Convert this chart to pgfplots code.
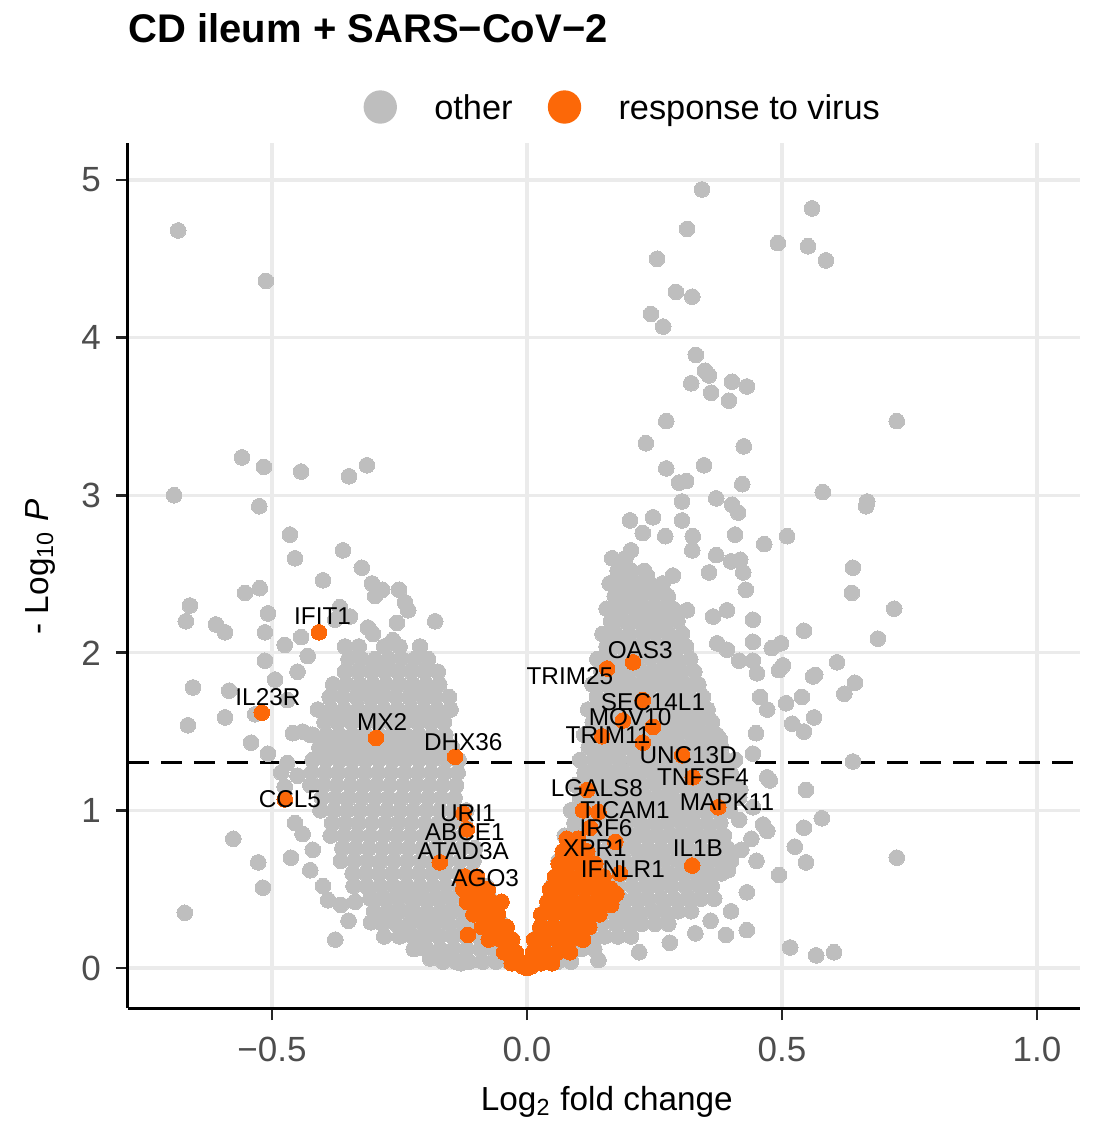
\documentclass[border=0pt]{standalone}
\usepackage{pgfplots}
\pgfplotsset{compat=1.18}
\usepackage{fontspec}
\setmainfont{Liberation Sans}
\definecolor{ptgrey}{RGB}{190,190,190}
\definecolor{ptorange}{RGB}{252,104,8}
\definecolor{gridgrey}{RGB}{235,235,235}
\definecolor{ticklab}{RGB}{77,77,77}
\begin{document}
\begin{tikzpicture}[x=1pt,y=1pt]
\useasboundingbox (-38.4,-34.8) rectangle (291.3,302.4);
\begin{axis}[
  at={(0,0)}, anchor=south west,
  scale only axis, width=285.6pt, height=259.5pt,
  xmin=-0.7824, xmax=1.0843, ymin=-0.254, ymax=5.235,
  axis x line*=bottom, axis y line*=left,
  axis line style={line width=0.9pt, black, -},
  xtick={-0.5,0,0.5,1}, xticklabels={−0.5,0.0,0.5,1.0},
  ytick={0,1,2,3,4,5}, yticklabels={0,1,2,3,4,5},
  tick align=outside, major tick length=3.6pt,
  tick style={line width=0.8pt, black!85},
  grid=major, grid style={gridgrey, line width=1pt},
  tick label style={font=\fontsize{10.5}{12}\selectfont, text=ticklab},
  xticklabel style={yshift=-1.5pt},
  yticklabel style={xshift=-1pt},
  xlabel={Log\textsubscript{2} fold change},
  ylabel={- Log\textsubscript{10} \textit{P}},
  label style={font=\fontsize{10}{12}\selectfont},
  xlabel style={at={(axis description cs:0.503,-0.108)}, anchor=center},
  ylabel style={at={(axis description cs:-0.0924,0.51)}, anchor=center},
  legend style={draw=none, fill=none, inner sep=0pt,
    at={(axis description cs:0.2468,1.0416)}, anchor=west,
    nodes={inner sep=0pt, text depth=0pt},
    font=\fontsize{10.3}{12}\selectfont,
    /tikz/every odd column/.append style={column sep=11.2pt},
    /tikz/every even column/.append style={column sep=10.6pt}},
  legend columns=2,
]
% other genes
\addplot[ptgrey, only marks, mark=*, mark size=2.35pt, mark options={draw=none, fill=ptgrey, line width=0pt},
  legend image code/.code={\fill[ptgrey] (0pt,0pt) circle (4.8pt);}] coordinates {
(-0.684,4.68) (-0.512,4.36) (-0.692,3.00) (-0.559,3.24) (-0.516,3.18) (-0.443,3.15) (-0.349,3.12) (-0.314,3.19) (-0.525,2.93) (-0.465,2.75) (-0.455,2.60) (-0.361,2.65) (-0.324,2.54) (-0.400,2.46) (-0.304,2.44) (-0.284,2.40) (-0.251,2.40) (-0.233,2.27) (-0.661,2.30) (-0.669,2.20) (-0.610,2.18) (-0.592,2.13) (-0.553,2.38) (-0.524,2.41) (-0.508,2.25) (-0.514,2.13) (-0.475,2.05) (-0.443,2.10) (-0.376,2.21) (-0.357,2.04) (-0.312,2.16) (-0.298,2.36) (-0.239,2.32) (-0.180,2.20) (-0.367,2.29) (-0.347,2.23) (-0.302,2.12) (-0.255,2.19) (-0.263,2.08) (-0.655,1.78) (-0.665,1.54) (-0.592,1.59) (-0.584,1.76) (-0.533,1.61) (-0.541,1.43) (-0.508,1.36) (-0.482,1.24) (-0.475,1.15) (-0.459,1.49) (-0.440,1.50) (-0.425,1.48) (-0.514,1.95) (-0.494,1.83) (-0.470,1.70) (-0.450,1.88) (-0.430,1.98) (-0.576,0.82) (-0.527,0.67) (-0.518,0.51) (-0.463,0.70) (-0.425,0.62) (-0.671,0.35) (-0.390,0.43) (-0.376,0.18) (-0.312,0.51) (-0.306,0.29) (-0.239,0.25) (-0.208,0.13) (-0.165,0.08) (-0.365,0.40) (-0.337,0.42) (-0.455,0.92) (-0.440,0.85) (-0.420,0.75) (-0.470,1.30) (-0.450,1.22) (-0.400,0.52) (-0.350,0.30) (-0.280,0.20) (-0.190,0.06) (-0.130,0.03)
(0.343,4.94) (0.314,4.69) (0.255,4.50) (0.492,4.60) (0.559,4.82) (0.551,4.58) (0.586,4.49) (0.292,4.29) (0.324,4.26) (0.243,4.15) (0.267,4.07) (0.331,3.89) (0.349,3.79) (0.357,3.76) (0.322,3.71) (0.361,3.65) (0.402,3.72) (0.431,3.69) (0.396,3.60) (0.273,3.47) (0.725,3.47) (0.233,3.33) (0.425,3.31) (0.273,3.17) (0.347,3.19) (0.298,3.08) (0.312,3.09) (0.422,3.07) (0.304,2.96) (0.371,2.98) (0.402,2.94) (0.414,2.89) (0.580,3.02) (0.667,2.96) (0.665,2.93) (0.202,2.84) (0.247,2.86) (0.227,2.76) (0.271,2.74) (0.304,2.84) (0.325,2.74) (0.324,2.65) (0.408,2.75) (0.371,2.62) (0.465,2.69) (0.510,2.74) (0.400,2.58) (0.418,2.59) (0.424,2.51) (0.639,2.54) (0.637,2.38) (0.429,2.40) (0.180,2.57) (0.204,2.65) (0.186,2.44) (0.235,2.49) (0.286,2.49) (0.357,2.51) (0.263,2.41) (0.720,2.28) (0.688,2.09) (0.543,2.14) (0.608,1.94) (0.643,1.81) (0.622,1.74) (0.561,1.85) (0.539,1.72) (0.563,1.59) (0.520,1.55) (0.543,1.50) (0.639,1.31) (0.547,1.13) (0.578,0.95) (0.543,0.89) (0.525,0.77) (0.547,0.67) (0.725,0.70) (0.494,0.59) (0.431,0.48) (0.390,0.21) (0.431,0.24) (0.516,0.13) (0.567,0.08) (0.602,0.10) (0.471,1.21) (0.463,0.91) (0.498,2.06) (0.480,2.03) (0.443,1.95) (0.443,2.07) (0.416,1.95) (0.494,1.89) (0.457,1.72) (0.471,1.64) (0.508,1.68) (0.449,1.49) (0.443,1.36) (0.476,1.19) (0.443,1.02) (0.471,0.87) (0.416,0.94) (0.394,0.62) (0.418,1.13) (0.408,1.32) (0.378,1.45) (0.314,2.27) (0.365,2.23) (0.392,2.27) (0.443,2.21) (0.502,1.92) (0.451,1.87) (0.565,1.86) (0.373,2.06) (0.392,2.02) (0.420,0.75) (0.450,0.68) (0.400,0.36) (0.440,0.82) (0.360,0.30) (0.330,0.22) (0.280,0.16) (0.220,0.10) (0.140,0.05)
(-0.165,0.04) (-0.139,0.04) (-0.113,0.04) (-0.087,0.04) (-0.061,0.04) (-0.035,0.04)
(-0.222,0.12) (-0.196,0.12) (-0.170,0.12) (-0.144,0.12) (-0.118,0.12) (-0.092,0.12) (-0.066,0.12) (-0.040,0.12)
(-0.250,0.20) (-0.224,0.20) (-0.198,0.20) (-0.172,0.20) (-0.146,0.20) (-0.120,0.20) (-0.094,0.20) (-0.068,0.20) (-0.042,0.20)
(-0.283,0.28) (-0.257,0.28) (-0.231,0.28) (-0.205,0.28) (-0.179,0.28) (-0.153,0.28) (-0.127,0.28) (-0.101,0.28) (-0.075,0.28) (-0.049,0.28)
(-0.300,0.36) (-0.274,0.36) (-0.248,0.36) (-0.222,0.36) (-0.196,0.36) (-0.170,0.36) (-0.144,0.36) (-0.118,0.36) (-0.092,0.36) (-0.066,0.36)
(-0.307,0.44) (-0.281,0.44) (-0.255,0.44) (-0.229,0.44) (-0.203,0.44) (-0.177,0.44) (-0.151,0.44) (-0.125,0.44) (-0.099,0.44) (-0.073,0.44)
(-0.340,0.52) (-0.314,0.52) (-0.288,0.52) (-0.262,0.52) (-0.236,0.52) (-0.210,0.52) (-0.184,0.52) (-0.158,0.52) (-0.132,0.52) (-0.106,0.52) (-0.080,0.52)
(-0.342,0.60) (-0.316,0.60) (-0.290,0.60) (-0.264,0.60) (-0.238,0.60) (-0.212,0.60) (-0.186,0.60) (-0.160,0.60) (-0.134,0.60) (-0.108,0.60)
(-0.365,0.68) (-0.339,0.68) (-0.313,0.68) (-0.287,0.68) (-0.261,0.68) (-0.235,0.68) (-0.209,0.68) (-0.183,0.68) (-0.157,0.68) (-0.131,0.68) (-0.105,0.68)
(-0.362,0.76) (-0.336,0.76) (-0.310,0.76) (-0.284,0.76) (-0.258,0.76) (-0.232,0.76) (-0.206,0.76) (-0.180,0.76) (-0.154,0.76) (-0.128,0.76) (-0.102,0.76)
(-0.385,0.84) (-0.359,0.84) (-0.333,0.84) (-0.307,0.84) (-0.281,0.84) (-0.255,0.84) (-0.229,0.84) (-0.203,0.84) (-0.177,0.84) (-0.151,0.84) (-0.125,0.84)
(-0.382,0.92) (-0.356,0.92) (-0.330,0.92) (-0.304,0.92) (-0.278,0.92) (-0.252,0.92) (-0.226,0.92) (-0.200,0.92) (-0.174,0.92) (-0.148,0.92) (-0.122,0.92)
(-0.405,1.00) (-0.379,1.00) (-0.353,1.00) (-0.327,1.00) (-0.301,1.00) (-0.275,1.00) (-0.249,1.00) (-0.223,1.00) (-0.197,1.00) (-0.171,1.00) (-0.145,1.00) (-0.119,1.00)
(-0.402,1.08) (-0.376,1.08) (-0.350,1.08) (-0.324,1.08) (-0.298,1.08) (-0.272,1.08) (-0.246,1.08) (-0.220,1.08) (-0.194,1.08) (-0.168,1.08) (-0.142,1.08)
(-0.425,1.16) (-0.399,1.16) (-0.373,1.16) (-0.347,1.16) (-0.321,1.16) (-0.295,1.16) (-0.269,1.16) (-0.243,1.16) (-0.217,1.16) (-0.191,1.16) (-0.165,1.16) (-0.139,1.16)
(-0.422,1.24) (-0.396,1.24) (-0.370,1.24) (-0.344,1.24) (-0.318,1.24) (-0.292,1.24) (-0.266,1.24) (-0.240,1.24) (-0.214,1.24) (-0.188,1.24) (-0.162,1.24) (-0.136,1.24)
(-0.420,1.32) (-0.394,1.32) (-0.368,1.32) (-0.342,1.32) (-0.316,1.32) (-0.290,1.32) (-0.264,1.32) (-0.238,1.32) (-0.212,1.32) (-0.186,1.32) (-0.160,1.32) (-0.134,1.32)
(-0.407,1.40) (-0.381,1.40) (-0.355,1.40) (-0.329,1.40) (-0.303,1.40) (-0.277,1.40) (-0.251,1.40) (-0.225,1.40) (-0.199,1.40) (-0.173,1.40) (-0.147,1.40)
(-0.420,1.48) (-0.394,1.48) (-0.368,1.48) (-0.342,1.48) (-0.316,1.48) (-0.290,1.48) (-0.264,1.48) (-0.238,1.48) (-0.212,1.48) (-0.186,1.48) (-0.160,1.48)
(-0.397,1.56) (-0.371,1.56) (-0.345,1.56) (-0.319,1.56) (-0.293,1.56) (-0.267,1.56) (-0.241,1.56) (-0.215,1.56) (-0.189,1.56) (-0.163,1.56)
(-0.410,1.64) (-0.384,1.64) (-0.358,1.64) (-0.332,1.64) (-0.306,1.64) (-0.280,1.64) (-0.254,1.64) (-0.228,1.64) (-0.202,1.64) (-0.176,1.64) (-0.150,1.64)
(-0.387,1.72) (-0.361,1.72) (-0.335,1.72) (-0.309,1.72) (-0.283,1.72) (-0.257,1.72) (-0.231,1.72) (-0.205,1.72) (-0.179,1.72) (-0.153,1.72)
(-0.380,1.80) (-0.354,1.80) (-0.328,1.80) (-0.302,1.80) (-0.276,1.80) (-0.250,1.80) (-0.224,1.80) (-0.198,1.80) (-0.172,1.80)
(-0.357,1.88) (-0.331,1.88) (-0.305,1.88) (-0.279,1.88) (-0.253,1.88) (-0.227,1.88) (-0.201,1.88) (-0.175,1.88)
(-0.350,1.96) (-0.324,1.96) (-0.298,1.96) (-0.272,1.96) (-0.246,1.96) (-0.220,1.96) (-0.194,1.96)
(-0.330,2.04) (-0.280,2.04) (-0.250,2.04) (-0.210,2.04)
(0.008,0.04) (0.034,0.04) (0.060,0.04) (0.086,0.04)
(0.028,0.12) (0.054,0.12) (0.080,0.12) (0.106,0.12) (0.132,0.12)
(0.022,0.20) (0.048,0.20) (0.074,0.20) (0.100,0.20) (0.126,0.20) (0.152,0.20) (0.178,0.20) (0.204,0.20)
(0.043,0.28) (0.069,0.28) (0.095,0.28) (0.121,0.28) (0.147,0.28) (0.173,0.28) (0.199,0.28) (0.225,0.28) (0.251,0.28) (0.277,0.28)
(0.036,0.36) (0.062,0.36) (0.088,0.36) (0.114,0.36) (0.140,0.36) (0.166,0.36) (0.192,0.36) (0.218,0.36) (0.244,0.36) (0.270,0.36) (0.296,0.36) (0.322,0.36)
(0.055,0.44) (0.081,0.44) (0.107,0.44) (0.133,0.44) (0.159,0.44) (0.185,0.44) (0.211,0.44) (0.237,0.44) (0.263,0.44) (0.289,0.44) (0.315,0.44) (0.341,0.44) (0.367,0.44)
(0.050,0.52) (0.076,0.52) (0.102,0.52) (0.128,0.52) (0.154,0.52) (0.180,0.52) (0.206,0.52) (0.232,0.52) (0.258,0.52) (0.284,0.52) (0.310,0.52) (0.336,0.52) (0.362,0.52)
(0.069,0.60) (0.095,0.60) (0.121,0.60) (0.147,0.60) (0.173,0.60) (0.199,0.60) (0.225,0.60) (0.251,0.60) (0.277,0.60) (0.303,0.60) (0.329,0.60) (0.355,0.60) (0.381,0.60)
(0.062,0.68) (0.088,0.68) (0.114,0.68) (0.140,0.68) (0.166,0.68) (0.192,0.68) (0.218,0.68) (0.244,0.68) (0.270,0.68) (0.296,0.68) (0.322,0.68) (0.348,0.68) (0.374,0.68) (0.400,0.68)
(0.081,0.76) (0.107,0.76) (0.133,0.76) (0.159,0.76) (0.185,0.76) (0.211,0.76) (0.237,0.76) (0.263,0.76) (0.289,0.76) (0.315,0.76) (0.341,0.76) (0.367,0.76) (0.393,0.76)
(0.074,0.84) (0.100,0.84) (0.126,0.84) (0.152,0.84) (0.178,0.84) (0.204,0.84) (0.230,0.84) (0.256,0.84) (0.282,0.84) (0.308,0.84) (0.334,0.84) (0.360,0.84) (0.386,0.84)
(0.093,0.92) (0.119,0.92) (0.145,0.92) (0.171,0.92) (0.197,0.92) (0.223,0.92) (0.249,0.92) (0.275,0.92) (0.301,0.92) (0.327,0.92) (0.353,0.92) (0.379,0.92)
(0.086,1.00) (0.112,1.00) (0.138,1.00) (0.164,1.00) (0.190,1.00) (0.216,1.00) (0.242,1.00) (0.268,1.00) (0.294,1.00) (0.320,1.00) (0.346,1.00) (0.372,1.00) (0.398,1.00)
(0.104,1.08) (0.130,1.08) (0.156,1.08) (0.182,1.08) (0.208,1.08) (0.234,1.08) (0.260,1.08) (0.286,1.08) (0.312,1.08) (0.338,1.08) (0.364,1.08) (0.390,1.08) (0.416,1.08)
(0.096,1.16) (0.122,1.16) (0.148,1.16) (0.174,1.16) (0.200,1.16) (0.226,1.16) (0.252,1.16) (0.278,1.16) (0.304,1.16) (0.330,1.16) (0.356,1.16) (0.382,1.16) (0.408,1.16)
(0.113,1.24) (0.139,1.24) (0.165,1.24) (0.191,1.24) (0.217,1.24) (0.243,1.24) (0.269,1.24) (0.295,1.24) (0.321,1.24) (0.347,1.24) (0.373,1.24) (0.399,1.24)
(0.104,1.32) (0.130,1.32) (0.156,1.32) (0.182,1.32) (0.208,1.32) (0.234,1.32) (0.260,1.32) (0.286,1.32) (0.312,1.32) (0.338,1.32) (0.364,1.32) (0.390,1.32)
(0.121,1.40) (0.147,1.40) (0.173,1.40) (0.199,1.40) (0.225,1.40) (0.251,1.40) (0.277,1.40) (0.303,1.40) (0.329,1.40) (0.355,1.40) (0.381,1.40)
(0.112,1.48) (0.138,1.48) (0.164,1.48) (0.190,1.48) (0.216,1.48) (0.242,1.48) (0.268,1.48) (0.294,1.48) (0.320,1.48) (0.346,1.48) (0.372,1.48)
(0.129,1.56) (0.155,1.56) (0.181,1.56) (0.207,1.56) (0.233,1.56) (0.259,1.56) (0.285,1.56) (0.311,1.56) (0.337,1.56) (0.363,1.56)
(0.120,1.64) (0.146,1.64) (0.172,1.64) (0.198,1.64) (0.224,1.64) (0.250,1.64) (0.276,1.64) (0.302,1.64) (0.328,1.64) (0.354,1.64)
(0.137,1.72) (0.163,1.72) (0.189,1.72) (0.215,1.72) (0.241,1.72) (0.267,1.72) (0.293,1.72) (0.319,1.72) (0.345,1.72)
(0.128,1.80) (0.154,1.80) (0.180,1.80) (0.206,1.80) (0.232,1.80) (0.258,1.80) (0.284,1.80) (0.310,1.80) (0.336,1.80)
(0.146,1.88) (0.172,1.88) (0.198,1.88) (0.224,1.88) (0.250,1.88) (0.276,1.88) (0.302,1.88) (0.328,1.88)
(0.138,1.96) (0.164,1.96) (0.190,1.96) (0.216,1.96) (0.242,1.96) (0.268,1.96) (0.294,1.96) (0.320,1.96)
(0.156,2.04) (0.182,2.04) (0.208,2.04) (0.234,2.04) (0.260,2.04) (0.286,2.04) (0.312,2.04)
(0.148,2.12) (0.174,2.12) (0.200,2.12) (0.226,2.12) (0.252,2.12) (0.278,2.12) (0.304,2.12)
(0.165,2.20) (0.191,2.20) (0.217,2.20) (0.243,2.20) (0.269,2.20) (0.295,2.20)
(0.156,2.28) (0.182,2.28) (0.208,2.28) (0.234,2.28) (0.260,2.28) (0.286,2.28)
(0.172,2.36) (0.198,2.36) (0.224,2.36) (0.250,2.36) (0.276,2.36)
(0.162,2.44) (0.188,2.44) (0.214,2.44) (0.240,2.44) (0.266,2.44)
(0.178,2.52) (0.204,2.52) (0.230,2.52)
(0.167,2.60) (0.193,2.60)
};
\addlegendentry{other}
% response to virus
\addplot[ptorange, only marks, mark=*, mark size=2.35pt, mark options={draw=none, fill=ptorange, line width=0pt},
  legend image code/.code={\fill[ptorange] (0pt,0pt) circle (4.8pt);}] coordinates {
(-0.030,0.03) (-0.008,0.03) (-0.045,0.10) (-0.022,0.10)
(-0.075,0.18) (-0.052,0.18) (-0.029,0.18)
(-0.088,0.26) (-0.064,0.26) (-0.040,0.26)
(-0.105,0.34) (-0.081,0.34) (-0.057,0.34)
(-0.118,0.42) (-0.094,0.42) (-0.070,0.42) (-0.050,0.42)
(-0.125,0.50) (-0.101,0.50) (-0.077,0.50)
(-0.122,0.58) (-0.098,0.58) (-0.116,0.21)
(0.000,0.00) (-0.008,0.01) (0.008,0.01)
(0.005,0.03) (0.027,0.03) (0.049,0.03)
(0.012,0.10) (0.036,0.10) (0.060,0.10) (0.084,0.10)
(0.014,0.18) (0.038,0.18) (0.062,0.18) (0.086,0.18) (0.110,0.18)
(0.026,0.26) (0.050,0.26) (0.074,0.26) (0.098,0.26) (0.122,0.26)
(0.028,0.34) (0.052,0.34) (0.076,0.34) (0.100,0.34) (0.124,0.34) (0.142,0.34)
(0.040,0.42) (0.064,0.42) (0.088,0.42) (0.112,0.42) (0.136,0.42) (0.155,0.42)
(0.045,0.50) (0.069,0.50) (0.093,0.50) (0.117,0.50) (0.141,0.50) (0.165,0.50)
(0.055,0.58) (0.079,0.58) (0.103,0.58) (0.127,0.58) (0.150,0.58)
(0.062,0.66) (0.086,0.66) (0.110,0.66) (0.134,0.66)
(0.070,0.74) (0.094,0.74) (0.118,0.74)
(0.078,0.82) (0.100,0.82) (0.165,0.40) (0.175,0.47) (0.140,0.99)
(-0.408,2.13) (-0.520,1.62) (-0.296,1.46) (-0.141,1.34) (-0.475,1.07)
(-0.125,0.98) (-0.118,0.88) (-0.171,0.67) (-0.125,0.56)
(0.157,1.90) (0.208,1.94) (0.227,1.70) (0.188,1.57) (0.247,1.53) (0.147,1.47) (0.227,1.43)
(0.304,1.35) (0.325,1.21) (0.118,1.13) (0.110,1.00) (0.375,1.02) (0.124,0.89)
(0.088,0.79) (0.173,0.80) (0.182,0.60) (0.324,0.65)
};
\addlegendentry{response to virus}
\addplot[black, line width=0.9pt, dash pattern=on 6.3pt off 3.6pt, forget plot]
  coordinates {(-0.7824,1.301) (1.0843,1.301)};
\coordinate (gIFIT1) at (axis cs:-0.401,2.23);
\coordinate (gIL23R) at (axis cs:-0.508,1.72);
\coordinate (gMX2) at (axis cs:-0.284,1.56);
\coordinate (gDHX36) at (axis cs:-0.125,1.43);
\coordinate (gCCL5) at (axis cs:-0.465,1.07);
\coordinate (gURI1) at (axis cs:-0.116,0.98);
\coordinate (gABCE1) at (axis cs:-0.122,0.86);
\coordinate (gATAD3A) at (axis cs:-0.125,0.74);
\coordinate (gAGO3) at (axis cs:-0.082,0.57);
\coordinate (gOAS3) at (axis cs:0.222,2.02);
\coordinate (gTRIM25) at (axis cs:0.084,1.85);
\coordinate (gSEC14L1) at (axis cs:0.247,1.69);
\coordinate (gMOV10) at (axis cs:0.202,1.59);
\coordinate (gTRIM11) at (axis cs:0.159,1.48);
\coordinate (gUNC13D) at (axis cs:0.316,1.35);
\coordinate (gTNFSF4) at (axis cs:0.345,1.21);
\coordinate (gLGALS8) at (axis cs:0.137,1.14);
\coordinate (gTICAM1) at (axis cs:0.192,1.00);
\coordinate (gMAPK11) at (axis cs:0.392,1.05);
\coordinate (gIRF6) at (axis cs:0.155,0.89);
\coordinate (gXPR1) at (axis cs:0.133,0.76);
\coordinate (gIFNLR1) at (axis cs:0.188,0.63);
\coordinate (gIL1B) at (axis cs:0.335,0.76);
\end{axis}
\begin{scope}[every node/.style={font=\fontsize{7.3}{8}\selectfont, inner sep=0pt, text=black}]
\node at (gIFIT1) {IFIT1};
\node at (gIL23R) {IL23R};
\node at (gMX2) {MX2};
\node at (gDHX36) {DHX36};
\node at (gCCL5) {CCL5};
\node at (gURI1) {URI1};
\node at (gABCE1) {ABCE1};
\node at (gATAD3A) {ATAD3A};
\node at (gAGO3) {AGO3};
\node at (gOAS3) {OAS3};
\node at (gTRIM25) {TRIM25};
\node at (gSEC14L1) {SEC14L1};
\node at (gMOV10) {MOV10};
\node at (gTRIM11) {TRIM11};
\node at (gUNC13D) {UNC13D};
\node at (gTNFSF4) {TNFSF4};
\node at (gLGALS8) {LGALS8};
\node at (gTICAM1) {TICAM1};
\node at (gMAPK11) {MAPK11};
\node at (gIRF6) {IRF6};
\node at (gXPR1) {XPR1};
\node at (gIFNLR1) {IFNLR1};
\node at (gIL1B) {IL1B};
\end{scope}
\node[anchor=base west, inner sep=0pt, font=\bfseries\fontsize{12}{14}\selectfont] at (0,289.5) {CD ileum + SARS−CoV−2};
\end{tikzpicture}
\end{document}
